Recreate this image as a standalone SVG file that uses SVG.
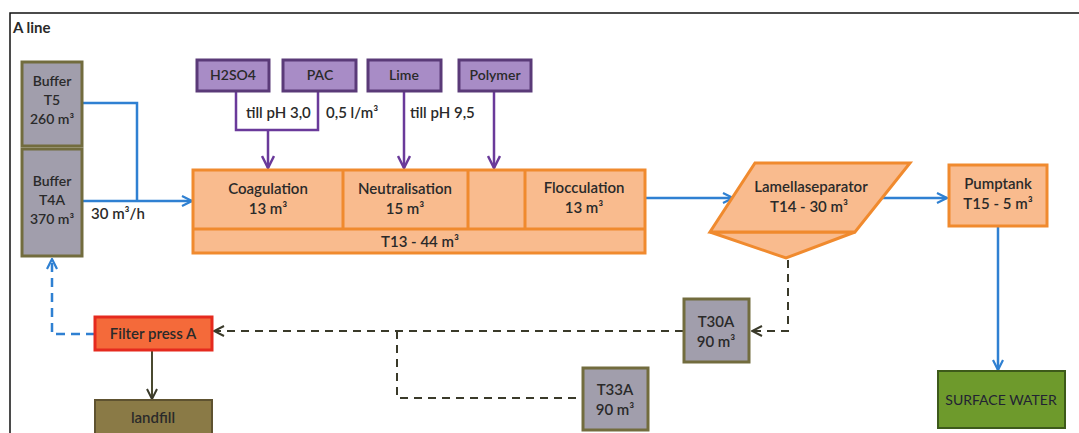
<svg xmlns="http://www.w3.org/2000/svg" width="1079" height="433" viewBox="0 0 1079 433">
<defs>
<style>
.t{font-family:Lato,"Liberation Sans",sans-serif;font-size:15px;fill:#2a2a2a;text-anchor:middle;font-weight:600}
.tl{text-anchor:start}
.s14{font-size:14px}
.gray{fill:#a19eac;stroke:#726c3e;stroke-width:3}
.org{fill:#f9bb8e;stroke:#f08a2e;stroke-width:3}
.pur{fill:#a88cc6;stroke:#5a3a78;stroke-width:3}
.blue{fill:none;stroke:#2f80d2;stroke-width:2.5}
.bdash{fill:none;stroke:#2f80d2;stroke-width:2.5;stroke-dasharray:9 6}
.pl{fill:none;stroke:#6a3a9a;stroke-width:2.5}
.kdash{fill:none;stroke:#3a3a2a;stroke-width:2;stroke-dasharray:8 6}
.ol{fill:none;stroke:#4a4a30;stroke-width:2}
</style>
<marker id="ab" viewBox="0 0 12 12" refX="11" refY="6" markerWidth="12" markerHeight="12" markerUnits="userSpaceOnUse" orient="auto"><path d="M1,1 L11,6 L1,11" fill="none" stroke="#2f80d2" stroke-width="2.2"/></marker>
<marker id="ap" viewBox="0 0 14 14" refX="13" refY="7" markerWidth="14" markerHeight="14" markerUnits="userSpaceOnUse" orient="auto"><path d="M1,1 L13,7 L1,13" fill="none" stroke="#6a3a9a" stroke-width="2.5"/></marker>
<marker id="ak" viewBox="0 0 12 12" refX="11" refY="6" markerWidth="12" markerHeight="12" markerUnits="userSpaceOnUse" orient="auto"><path d="M1,1 L11,6 L1,11" fill="none" stroke="#3a3a2a" stroke-width="2"/></marker>
</defs>
<rect width="1079" height="433" fill="#ffffff"/>
<path d="M10,433 L10,13 L1079,13" fill="none" stroke="#111" stroke-width="1.5"/>
<text x="13" y="33" class="t tl" style="font-weight:bold">A line</text>

<g id="connectors">
<path class="blue" d="M82,103 L137,103 L137,201"/>
<path class="blue" d="M82,201 L192,201" marker-end="url(#ab)"/>
<path class="pl" d="M236,91 L236,130 L318,130 L318,91"/>
<path class="pl" d="M268,130 L268,168" marker-end="url(#ap)"/>
<path class="pl" d="M404,91 L404,168" marker-end="url(#ap)"/>
<path class="pl" d="M494,91 L494,168" marker-end="url(#ap)"/>
<path class="blue" d="M645,198 L733,198" marker-end="url(#ab)"/>
<path class="blue" d="M882,198 L947,198" marker-end="url(#ab)"/>
<path class="blue" d="M998,226 L998,370" marker-end="url(#ab)"/>
<path class="kdash" d="M788,260 L788,331 L752,331" marker-end="url(#ak)"/>
<path class="kdash" d="M683,331 L214,331" marker-end="url(#ak)"/>
<path class="kdash" d="M397,331 L397,398 L582,398"/>
<path class="bdash" d="M95,334 L52,334 L52,259" marker-end="url(#ab)"/>
<path class="ol" d="M152,350 L152,399" marker-end="url(#ak)"/>
</g>

<g id="bufferT5"><rect class="gray" x="22" y="62" width="60" height="84"/>
<text class="t s14" x="52" y="86">Buffer</text><text class="t s14" x="52" y="105">T5</text><text class="t s14" x="52" y="124">260 m³</text></g>
<g id="bufferT4A"><rect class="gray" x="22" y="149" width="60" height="107"/>
<text class="t s14" x="52" y="186">Buffer</text><text class="t s14" x="52" y="205">T4A</text><text class="t s14" x="52" y="224">370 m³</text></g>
<text class="t tl" x="91" y="219">30 m³/h</text>

<g id="H2SO4"><rect class="pur" x="197" y="60" width="72" height="31"/><text class="t s14" x="233" y="80">H2SO4</text></g>
<g id="PAC"><rect class="pur" x="283" y="60" width="73" height="31"/><text class="t s14" x="320" y="80">PAC</text></g>
<g id="Lime"><rect class="pur" x="368" y="60" width="73" height="31"/><text class="t s14" x="404" y="80">Lime</text></g>
<g id="Polymer"><rect class="pur" x="459" y="60" width="72" height="31"/><text class="t s14" x="495" y="80">Polymer</text></g>
<text class="t tl" x="246" y="118">till pH 3,0</text>
<text class="t tl" x="326" y="118">0,5 l/m³</text>
<text class="t tl" x="410" y="118">till pH 9,5</text>

<g id="T13">
<rect class="org" x="193" y="170" width="452" height="83"/>
<path d="M193,229 L645,229 M343,170 L343,229 M468,170 L468,229 M525,170 L525,229" stroke="#f08a2e" stroke-width="3" fill="none"/>
<text class="t" x="268" y="194">Coagulation</text><text class="t" x="268" y="214">13 m³</text>
<text class="t" x="405" y="194">Neutralisation</text><text class="t" x="405" y="214">15 m³</text>
<text class="t" x="584" y="193">Flocculation</text><text class="t" x="584" y="213">13 m³</text>
<text class="t" x="420" y="247">T13 - 44 m³</text>
</g>

<g id="lamella">
<path class="org" d="M710,232 L855,232 L786,258 Z"/>
<path class="org" d="M755,163 L910,163 L855,232 L710,232 Z"/>
<text class="t" x="811" y="192">Lamellaseparator</text><text class="t" x="809" y="212">T14 - 30 m³</text>
</g>

<g id="pumptank"><rect class="org" x="949" y="165" width="98" height="61"/>
<text class="t" x="998" y="189">Pumptank</text><text class="t" x="998" y="209">T15 - 5 m³</text></g>

<g id="surface"><rect x="938" y="371" width="127" height="57" fill="#6e9a2c" stroke="#3d5a1a" stroke-width="2"/>
<text class="t s14" x="1001" y="405" style="font-weight:normal;fill:#223">SURFACE WATER</text></g>

<g id="T30A"><rect class="gray" x="684" y="299" width="65" height="63"/>
<text class="t" x="716" y="327">T30A</text><text class="t" x="716" y="347">90 m³</text></g>

<g id="T33A"><rect class="gray" x="583" y="368" width="65" height="62"/>
<text class="t" x="615" y="395">T33A</text><text class="t" x="615" y="415">90 m³</text></g>

<g id="filterpress"><rect x="95" y="317" width="117" height="33" fill="#f46a3a" stroke="#e52a1e" stroke-width="3"/>
<text class="t" x="153" y="339">Filter press A</text></g>

<g id="landfill"><rect x="95" y="400" width="117" height="40" fill="#8a7a46" stroke="#5e5230" stroke-width="2"/>
<text class="t" x="153" y="423">landfill</text></g>
</svg>
